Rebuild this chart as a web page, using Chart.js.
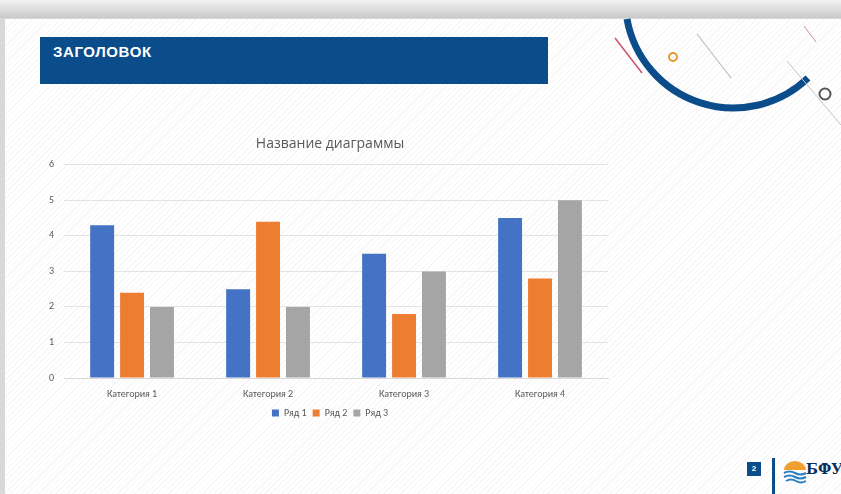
<!DOCTYPE html>
<html lang="ru">
<head>
<meta charset="UTF-8">
<title>Слайд</title>
<script src="https://cdn.jsdelivr.net/npm/chart.js@4.4.0/dist/chart.umd.min.js"></script>
<style>
  body { margin: 0; width: 841px; height: 494px; overflow: hidden; background: #d8d8d8; font-family: "Liberation Sans", Arial, sans-serif; }
  .top { position: absolute; left: 0; top: 0; width: 841px; height: 18px; background: linear-gradient(#f2f2f2, #c9c9c9); }
  .slide { position: absolute; left: 5px; top: 19px; width: 836px; height: 475px;
    background: repeating-linear-gradient(135deg, #ffffff 0px, #ffffff 3px, #f6f6f6 3px, #f6f6f6 4px); }
  .head { position: absolute; left: 40px; top: 37px; width: 508px; height: 47px; background: #0b4c8a; }
  .head span { position: absolute; left: 13px; top: 6px; color: #fff; font-weight: bold; font-size: 15px; letter-spacing: 0.6px; }
  #wrap { position: absolute; left: 30px; top: 126px; width: 600px; height: 312px; }
  .deco { position: absolute; left: 0; top: 0; }
  .num { position: absolute; left: 747px; top: 462px; width: 14px; height: 14px; background: #0b4c8a; color: #fff; font-size: 8px; font-weight: bold; text-align: center; line-height: 14px; }
  .bar { position: absolute; left: 772px; top: 458px; width: 3px; height: 36px; background: #0b4c8a; }
  .logo { position: absolute; left: 806px; top: 461px; font-family: "DejaVu Serif", serif; font-weight: bold; font-size: 14px; color: #0b2f5c; }
</style>
</head>
<body>
<div class="top"></div>
<div class="slide"></div>
<div class="head"><span>ЗАГОЛОВОК</span></div>
<svg class="deco" width="841" height="494">
  <path d="M627 19 A 108 108 0 0 0 808 78" fill="none" stroke="#0b4c8a" stroke-width="7"/>
  <line x1="615" y1="38" x2="642" y2="73" stroke="#c9546e" stroke-width="1.5"/>
  <line x1="697" y1="34" x2="731" y2="78" stroke="#bdbdbd" stroke-width="1.2"/>
  <line x1="804" y1="26" x2="816" y2="42" stroke="#d68a9c" stroke-width="1"/>
  <line x1="787" y1="61" x2="841" y2="125" stroke="#c4c4c4" stroke-width="1"/>
  <circle cx="673" cy="57" r="4" fill="none" stroke="#e39a2a" stroke-width="2"/>
  <circle cx="825" cy="94" r="5.5" fill="none" stroke="#555" stroke-width="2"/>
  <path d="M784 470 a 11 9 0 0 1 22 0 z" fill="#f0a030"/>
  <path d="M784 473 q 5.5 -3 11 0 t 11 0 M784 477 q 5.5 -3 11 0 t 11 0 M786 481 q 5 -3 10 0 t 10 0" fill="none" stroke="#2a7fc0" stroke-width="2"/>
</svg>
<div class="num">2</div>
<div class="bar"></div>
<div class="logo">БФУ</div>
<div id="wrap"><canvas id="chart"></canvas></div>
<script>
  const categories = ['Категория 1', 'Категория 2', 'Категория 3', 'Категория 4'];
  const row1 = [4.3, 2.5, 3.5, 4.5];
  const row2 = [2.4, 4.4, 1.8, 2.8];
  const row3 = [2, 2, 3, 5];
  const seriesNames = ['Ряд 1', 'Ряд 2', 'Ряд 3'];
  const colors = ['#4472c4', '#ed7d31', '#a5a5a5'];

  const font = { family: 'Calibri, "Liberation Sans", "Open Sans", sans-serif', size: 10 };

  new Chart(document.getElementById('chart'), {
    type: 'bar',
    data: {
      labels: categories,
      datasets: [row1, row2, row3].map((d, i) => ({
        label: seriesNames[i],
        data: d,
        backgroundColor: colors[i],
        categoryPercentage: 0.66,
        barPercentage: 0.8
      }))
    },
    options: {
      responsive: true,
      maintainAspectRatio: false,
      animation: false,
      layout: { padding: { left: 9, right: 9, top: 6, bottom: 10 } },
      plugins: {
        title: {
          display: true,
          text: 'Название диаграммы',
          color: '#595959',
          font: { family: '"Open Sans", sans-serif', size: 14, weight: 'normal' },
          padding: { top: 4, bottom: 12 }
        },
        legend: {
          position: 'bottom',
          labels: { boxWidth: 7, boxHeight: 7, color: '#595959', font: font, padding: 6 }
        },
        tooltip: { enabled: false }
      },
      scales: {
        x: {
          grid: { display: false },
          border: { color: '#d9d9d9' },
          ticks: { color: '#595959', font: font, padding: 2 }
        },
        y: {
          min: 0,
          max: 6,
          ticks: { stepSize: 1, color: '#595959', font: font, padding: 10 },
          grid: { color: '#e3e3e3', drawTicks: false },
          border: { display: false }
        },
        // empty right-hand spacer so the title and legend sit where the original has them
        yRight: {
          position: 'right',
          min: 0,
          max: 6,
          afterFit: (scale) => { scale.width = 13; },
          ticks: { display: false },
          grid: { display: false },
          border: { display: false }
        }
      }
    }
  });
</script>
</body>
</html>
